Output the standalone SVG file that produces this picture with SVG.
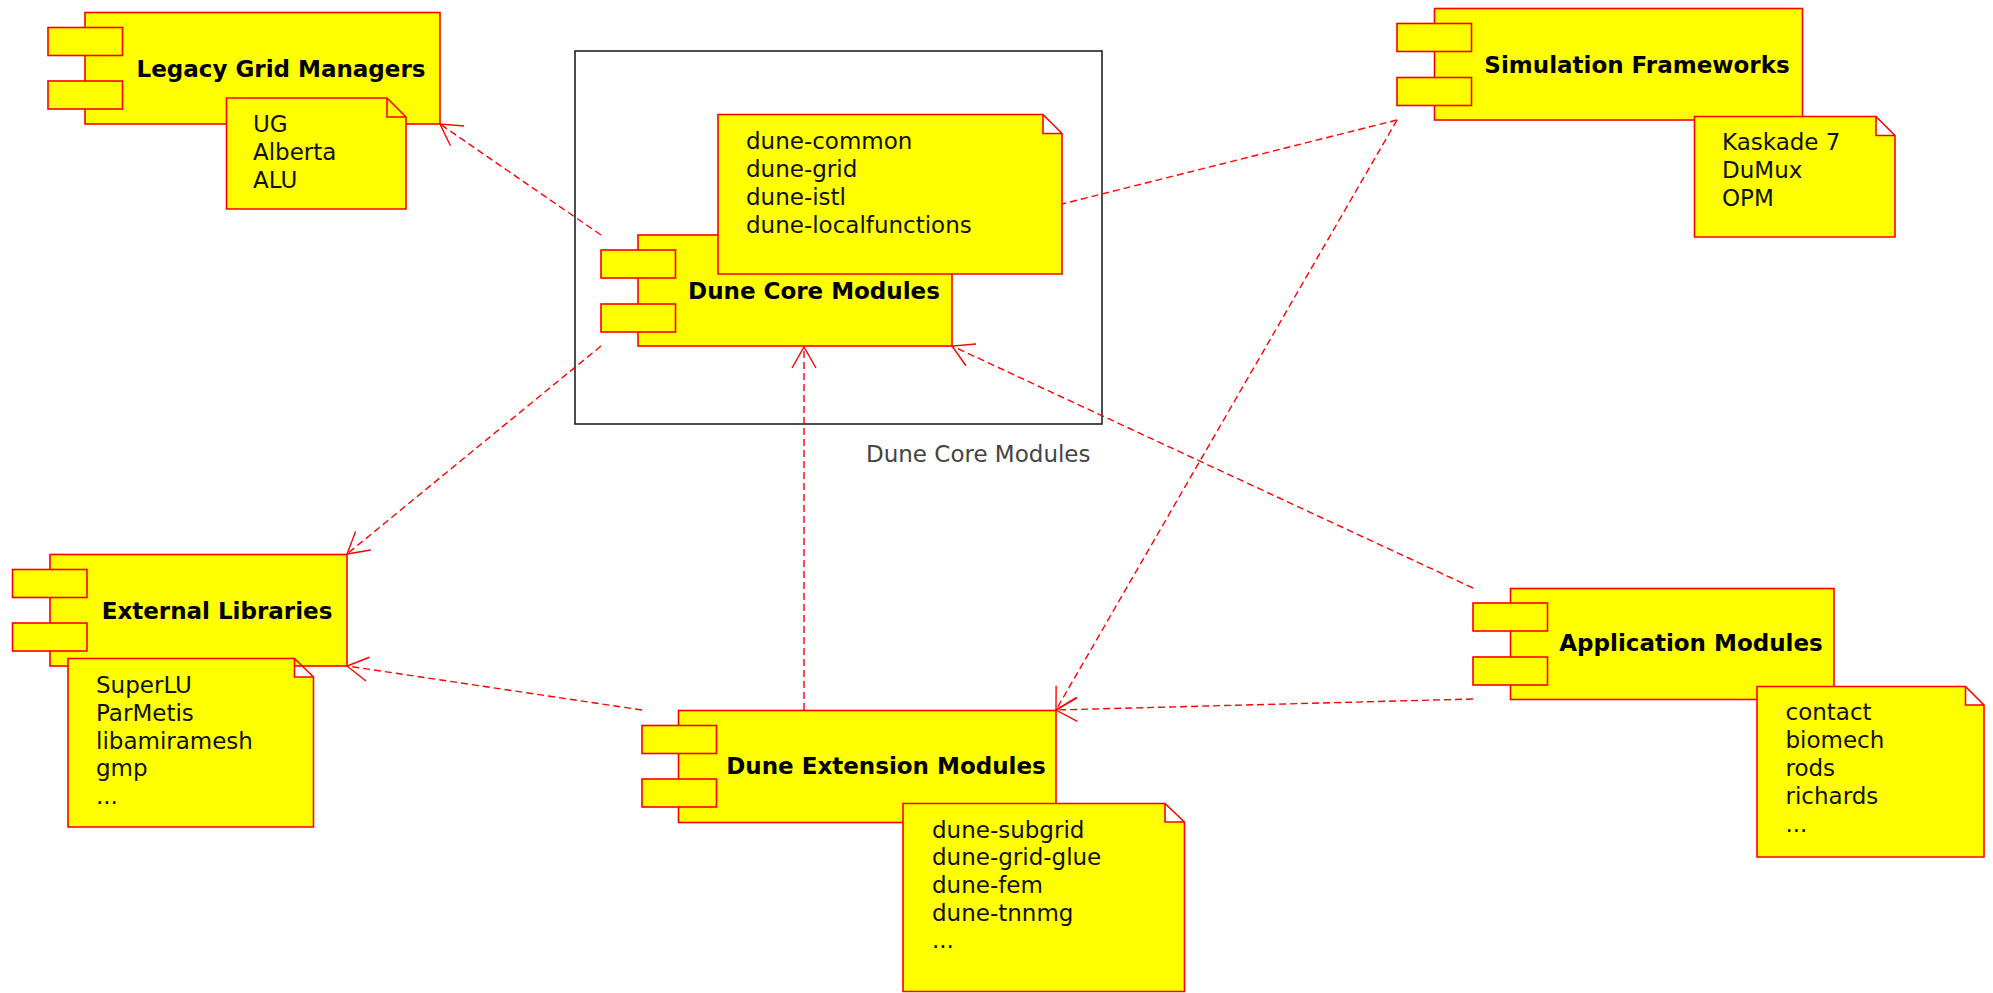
<svg xmlns="http://www.w3.org/2000/svg" width="1993" height="993" viewBox="0 0 1993 993">
  <style>
    .main { fill: #ffff00; stroke: #ff0000; stroke-width: 1.6; }
    .tab { fill: #ffff00; stroke: #ff0000; stroke-width: 1.6; }
    .note { fill: #ffff00; stroke: #ff0000; stroke-width: 1.6; stroke-linejoin: miter; }
    .title { font-family: "DejaVu Sans", sans-serif; font-weight: bold; font-size: 23px; fill: #000; text-anchor: middle; }
    .ntext { font-family: "DejaVu Sans", sans-serif; font-size: 23px; fill: #111; }
    .pkg { fill: none; stroke: #222; stroke-width: 1.6; }
    .pkglabel { font-family: "DejaVu Sans", sans-serif; font-size: 23px; fill: #444; }
    .conn { fill: none; stroke: #ff0000; stroke-width: 1.4; stroke-dasharray: 7 4; }
  </style>
  <defs>
    <marker id="open" markerUnits="userSpaceOnUse" orient="auto" refX="0" refY="0" markerWidth="30" markerHeight="30" viewBox="-25 -15 30 30" overflow="visible">
      <path d="M-21,-12 L0,0 L-21,12" fill="none" stroke="#ff0000" stroke-width="1.4" stroke-dasharray="none"/>
    </marker>
  </defs>

  <g id="dune-core-package">
    <rect class="pkg" x="575" y="51" width="527" height="373"/>
    <text class="pkglabel" x="866" y="462">Dune Core Modules</text>
  </g>

  <g id="connectors">
    <line class="conn" x1="601" y1="235" x2="440" y2="124" marker-end="url(#open)"/>
    <line class="conn" x1="601" y1="346" x2="347" y2="554" marker-end="url(#open)"/>
    <line class="conn" x1="642" y1="710" x2="347" y2="666" marker-end="url(#open)"/>
    <line class="conn" x1="804" y1="710" x2="804" y2="347" marker-end="url(#open)"/>
    <line class="conn" x1="1473" y1="588" x2="952" y2="346" marker-end="url(#open)"/>
    <line class="conn" x1="1473" y1="699" x2="1056" y2="710" marker-end="url(#open)"/>
    <line class="conn" x1="1397" y1="120" x2="1056" y2="710" marker-end="url(#open)"/>
    <line class="conn" x1="1397" y1="120" x2="1062" y2="204"/>
  </g>

  <g id="legacy-grid-managers">
    <rect class="main" x="85" y="12.5" width="355" height="111.5"/>
    <rect class="tab" x="48" y="27.5" width="74.5" height="28"/>
    <rect class="tab" x="48" y="81" width="74.5" height="28"/>
    <text class="title" x="281" y="76.5">Legacy Grid Managers</text>
    <path class="note" d="M226.5,98 H387 L406,117 V209 H226.5 Z M387,98 V117 H406"/>
    <text class="ntext" x="253" y="132">UG</text>
    <text class="ntext" x="253" y="160">Alberta</text>
    <text class="ntext" x="253" y="188">ALU</text>
  </g>

  <g id="dune-core-modules">
    <rect class="main" x="638" y="235" width="314" height="111"/>
    <rect class="tab" x="601" y="250" width="74.5" height="28"/>
    <rect class="tab" x="601" y="304" width="74.5" height="28"/>
    <text class="title" x="814" y="299">Dune Core Modules</text>
    <path class="note" d="M718,114.5 H1043 L1062,133.5 V274 H718 Z M1043,114.5 V133.5 H1062"/>
    <text class="ntext" x="746" y="148.5">dune-common</text>
    <text class="ntext" x="746" y="176.5">dune-grid</text>
    <text class="ntext" x="746" y="204.5">dune-istl</text>
    <text class="ntext" x="746" y="232.5">dune-localfunctions</text>
  </g>

  <g id="simulation-frameworks">
    <rect class="main" x="1434.5" y="8.5" width="368" height="111.5"/>
    <rect class="tab" x="1397" y="23.5" width="74.5" height="28"/>
    <rect class="tab" x="1397" y="77.5" width="74.5" height="28"/>
    <text class="title" x="1637" y="72.5">Simulation Frameworks</text>
    <path class="note" d="M1694.5,116.5 H1876 L1895,135.5 V237 H1694.5 Z M1876,116.5 V135.5 H1895"/>
    <text class="ntext" x="1722" y="150">Kaskade 7</text>
    <text class="ntext" x="1722" y="178">DuMux</text>
    <text class="ntext" x="1722" y="206">OPM</text>
  </g>

  <g id="external-libraries">
    <rect class="main" x="50" y="554.5" width="297" height="111.5"/>
    <rect class="tab" x="12.5" y="569.5" width="74.5" height="28"/>
    <rect class="tab" x="12.5" y="623" width="74.5" height="28"/>
    <text class="title" x="217" y="618.5">External Libraries</text>
    <path class="note" d="M68,658.5 H294.5 L313.5,677 V827 H68 Z M294.5,658.5 V677 H313.5"/>
    <text class="ntext" x="96" y="692.5">SuperLU</text>
    <text class="ntext" x="96" y="720.5">ParMetis</text>
    <text class="ntext" x="96" y="748.5">libamiramesh</text>
    <text class="ntext" x="96" y="776">gmp</text>
    <text class="ntext" x="96" y="803.5">...</text>
  </g>

  <g id="dune-extension-modules">
    <rect class="main" x="678.5" y="710.5" width="377.5" height="112"/>
    <rect class="tab" x="642" y="725.5" width="74.5" height="28"/>
    <rect class="tab" x="642" y="779" width="74.5" height="28"/>
    <text class="title" x="886" y="774">Dune Extension Modules</text>
    <path class="note" d="M903,803.5 H1165 L1184.5,822 V991.5 H903 Z M1165,803.5 V822 H1184.5"/>
    <text class="ntext" x="932" y="837.5">dune-subgrid</text>
    <text class="ntext" x="932" y="865">dune-grid-glue</text>
    <text class="ntext" x="932" y="892.5">dune-fem</text>
    <text class="ntext" x="932" y="920.5">dune-tnnmg</text>
    <text class="ntext" x="932" y="948">...</text>
  </g>

  <g id="application-modules">
    <rect class="main" x="1510.5" y="588.5" width="323.5" height="111"/>
    <rect class="tab" x="1473" y="603" width="74.5" height="28"/>
    <rect class="tab" x="1473" y="657" width="74.5" height="28"/>
    <text class="title" x="1691" y="651">Application Modules</text>
    <path class="note" d="M1757,686.5 H1965.5 L1984,705 V857 H1757 Z M1965.5,686.5 V705 H1984"/>
    <text class="ntext" x="1785.5" y="720">contact</text>
    <text class="ntext" x="1785.5" y="748">biomech</text>
    <text class="ntext" x="1785.5" y="775.5">rods</text>
    <text class="ntext" x="1785.5" y="803.5">richards</text>
    <text class="ntext" x="1785.5" y="831.5">...</text>
  </g>
</svg>
